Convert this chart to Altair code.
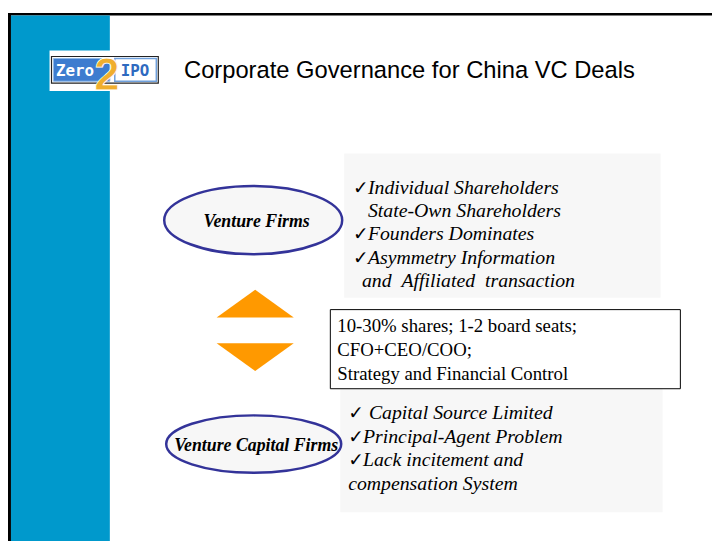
import altair as alt
import pandas as pd

# ---------------- content ----------------
title_text = "Corporate Governance for China VC Deals"
logo_left = "Zero"
logo_mid = "2"
logo_right = "IPO"
firm_labels = ["Venture Firms", "Venture Capital Firms"]
venture_firm_issues = [
    "Individual Shareholders",
    "State-Own Shareholders",
    "Founders Dominates",
    "Asymmetry Information",
    "and\u00a0\u00a0Affiliated\u00a0\u00a0transaction",
]
venture_firm_checked = [True, False, True, True, False]
vc_firm_issues = [
    "Capital Source Limited",
    "Principal-Agent Problem",
    "Lack incitement and",
    "compensation System",
]
vc_firm_checked = [True, True, True, False]
deal_terms = [
    "10-30% shares; 1-2 board seats;",
    "CFO+CEO/COO;",
    "Strategy and Financial Control",
]
CHECK = "\u2713"

# ---------------- layout (slide pixel coordinates) ----------------
W, H = 700, 520
X0, Y0 = 8, 8
XS = alt.Scale(domain=[X0, X0 + W], nice=False, zero=False)
YS = alt.Scale(domain=[Y0, Y0 + H], nice=False, zero=False, reverse=True)

BLUE = "#0099CC"
GREY = "#F7F7F7"
ORANGE = "#FF9900"
NAVY = "#333399"


def enc_xy(ch):
    return ch.encode(
        x=alt.X("x:Q", scale=XS, axis=None),
        y=alt.Y("y:Q", scale=YS, axis=None),
    )


def rect(x, x2, y, y2, **mark):
    df = pd.DataFrame({"x": [x], "x2": [x2], "y": [y], "y2": [y2]})
    return alt.Chart(df).mark_rect(**mark).encode(
        x=alt.X("x:Q", scale=XS, axis=None),
        x2="x2:Q",
        y=alt.Y("y:Q", scale=YS, axis=None),
        y2="y2:Q",
    )


def texts(lines, xpos, ypos, **mark):
    df = pd.DataFrame({"t": lines, "x": xpos, "y": ypos})
    m = dict(align="left", baseline="alphabetic", color="black")
    m.update(mark)
    return enc_xy(alt.Chart(df).mark_text(**m)).encode(text="t:N")


def symbol(path, size, x, y, **mark):
    df = pd.DataFrame({"x": [x], "y": [y]})
    m = dict(shape=path, size=size, filled=True, opacity=1)
    m.update(mark)
    return enc_xy(alt.Chart(df).mark_point(**m))


layers = []

# frame and left blue band
layers.append(rect(8, 720, 10, 12.5, color="black"))
layers.append(rect(8, 11, 10, 544, color="black"))
layers.append(rect(11, 111, 12.5, 544, color=BLUE))

# logo
layers.append(rect(50, 112, 48, 89, color="white"))
layers.append(rect(52, 160, 54, 81, fill="white", stroke="#222222", strokeWidth=1.2))
layers.append(rect(54, 111, 56, 79, fill="#3D7CCF", stroke="#8DB6E6", strokeWidth=1))
layers.append(rect(116, 158, 56, 79, fill="white", stroke="#6FA0DC", strokeWidth=1.5))
layers.append(texts([logo_left], [56.5], [74], font="DejaVu Sans Mono", fontSize=16,
                    fontWeight="bold", color="white"))
layers.append(texts([logo_right], [122], [74], font="DejaVu Sans Mono", fontSize=16,
                    fontWeight="bold", color="#2E6AC0"))
layers.append(texts([logo_mid], [108], [88], font="Liberation Sans", fontSize=46,
                    fontWeight="bold", color="#F0AE2E", align="center",
                    stroke="white", strokeWidth=0.8))

# title
layers.append(texts([title_text], [186], [76], font="Liberation Sans", fontSize=24))

# grey panels
layers.append(rect(348, 668, 152, 298, color=GREY))
layers.append(rect(344, 670, 384, 515, color=GREY))

# deal terms box
layers.append(rect(334, 688, 310, 390, fill="white", stroke="black", strokeWidth=1))
layers.append(texts(deal_terms, [341] * 3, [333, 357, 381], font="Liberation Serif",
                    fontSize=19))

# venture firm issues
top_y = [193, 216.5, 240, 263.5, 287]
top_x = [372, 372, 372, 372, 366]
layers.append(texts(venture_firm_issues, top_x, top_y, font="Liberation Serif",
                    fontSize=20, fontStyle="italic"))
layers.append(texts([CHECK for c in venture_firm_checked if c],
                    [357 for c in venture_firm_checked if c],
                    [y for y, c in zip(top_y, venture_firm_checked) if c],
                    font="DejaVu Sans", fontSize=19, fontWeight="bold"))

# vc firm issues
bot_y = [421, 445, 468.5, 492]
bot_x = [373, 367, 367, 352]
layers.append(texts(vc_firm_issues, bot_x, bot_y, font="Liberation Serif",
                    fontSize=20, fontStyle="italic"))
layers.append(texts([CHECK for c in vc_firm_checked if c],
                    [352 for c in vc_firm_checked if c],
                    [y for y, c in zip(bot_y, vc_firm_checked) if c],
                    font="DejaVu Sans", fontSize=19, fontWeight="bold"))

# ellipses
ell1 = "M -1 0 A 1 0.383 0 1 1 1 0 A 1 0.383 0 1 1 -1 0 Z"
ell2 = "M -1 0 A 1 0.328 0 1 1 1 0 A 1 0.328 0 1 1 -1 0 Z"
layers.append(symbol(ell1, 180 * 180, 256, 219.5, fill=GREY, stroke=NAVY, strokeWidth=2.5))
layers.append(symbol(ell2, 177 * 177, 256.5, 446, fill=GREY, stroke=NAVY, strokeWidth=2.5))
layers.append(texts([firm_labels[0]], [259.5], [226], font="Liberation Serif", fontSize=18,
                    fontStyle="italic", fontWeight="bold", align="center"))
layers.append(texts([firm_labels[1]], [259], [453], font="Liberation Serif", fontSize=18,
                    fontStyle="italic", fontWeight="bold", align="center"))

# double arrow (two triangles)
up = "M -1 0.359 L 1 0.359 L 0 -0.359 Z"
down = "M -1 -0.359 L 1 -0.359 L 0 0.359 Z"
layers.append(symbol(up, 78 * 78, 258, 304, color=ORANGE, strokeWidth=0))
layers.append(symbol(down, 78 * 78, 258, 358, color=ORANGE, strokeWidth=0))

chart = (
    alt.layer(*layers)
    .properties(width=W, height=H, padding=0, background="white")
    .configure_view(stroke=None)
)

chart.save("out.html", embed_options={"renderer": "svg", "actions": False})
